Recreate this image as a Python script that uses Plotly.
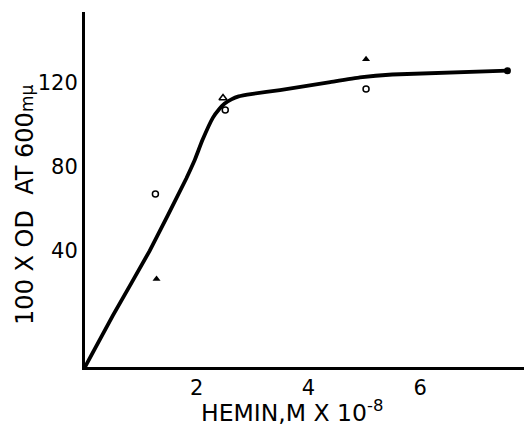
import plotly.graph_objects as go

# Fitted curve
curve_x = [0.0, 0.5, 1.157, 1.815, 1.964, 2.10, 2.29, 2.40, 2.50, 2.62, 2.75, 3.0, 3.49, 4.39, 4.92, 5.5, 7.56]
curve_y = [-15.2, 9.3, 40.0, 74.5, 83.2, 92.5, 103.3, 107.3, 110.0, 112.0, 113.4, 114.6, 116.4, 120.2, 122.4, 123.8, 125.6]

# Open circles
circ_x = [1.26, 2.51, 5.03]
circ_y = [67.0, 106.9, 116.9]

# Filled triangles
tri_x = [1.28, 5.03]
tri_y = [26.6, 131.0]

# Open triangle
otri_x = [2.47]
otri_y = [112.6]

# End point (filled circle)
end_x = [7.56]
end_y = [125.6]

x_ticks = [2, 4, 6]
y_ticks = [40, 80, 120]

FONT = "DejaVu Sans"

fig = go.Figure()
fig.add_trace(go.Scatter(x=curve_x, y=curve_y, mode="lines",
                         line=dict(color="black", width=3.8, shape="spline", smoothing=0.3),
                         showlegend=False, hoverinfo="skip"))
fig.add_trace(go.Scatter(x=circ_x, y=circ_y, mode="markers",
                         marker=dict(symbol="circle-open", size=6, color="black", line=dict(width=1.5)),
                         showlegend=False))
fig.add_trace(go.Scatter(x=tri_x, y=tri_y, mode="markers",
                         marker=dict(symbol="triangle-up", size=7, color="black"),
                         showlegend=False))
fig.add_trace(go.Scatter(x=otri_x, y=otri_y, mode="markers",
                         marker=dict(symbol="triangle-up-open", size=7, color="black", line=dict(width=1.5)),
                         showlegend=False))
fig.add_trace(go.Scatter(x=end_x, y=end_y, mode="markers",
                         marker=dict(symbol="circle", size=7, color="black"),
                         showlegend=False))

fig.update_layout(
    width=524, height=418,
    margin=dict(l=77, r=0, t=4, b=59, autoexpand=False),
    paper_bgcolor="white", plot_bgcolor="white",
    font=dict(family=FONT, color="black", size=21),
    xaxis=dict(range=[0, 8], tickvals=x_ticks, ticktext=[str(v) for v in x_ticks],
               showgrid=False, zeroline=False, showline=True, linecolor="black", linewidth=3,
               ticks="", tickfont=dict(size=21, family=FONT)),
    yaxis=dict(range=[-15.2, 153.5], tickvals=y_ticks, ticktext=[str(v) for v in y_ticks],
               showgrid=False, zeroline=False, showline=True, linecolor="black", linewidth=3,
               ticks="", tickfont=dict(size=21, family=FONT)),
    annotations=[
        dict(text="HEMIN,M X 10<sup>-8</sup>", xref="paper", yref="paper", x=0.4636, y=-0.124,
             showarrow=False, font=dict(size=23.5, family=FONT), xanchor="center", yanchor="middle"),
        dict(text="100 X OD  AT 600<span style='font-size:17px'>mμ</span>", xref="paper", yref="paper",
             x=-0.1705, y=0.456, textangle=-90, showarrow=False,
             font=dict(size=24, family=FONT), xanchor="left", yanchor="middle"),
    ],
)

fig.write_html("out.html")
